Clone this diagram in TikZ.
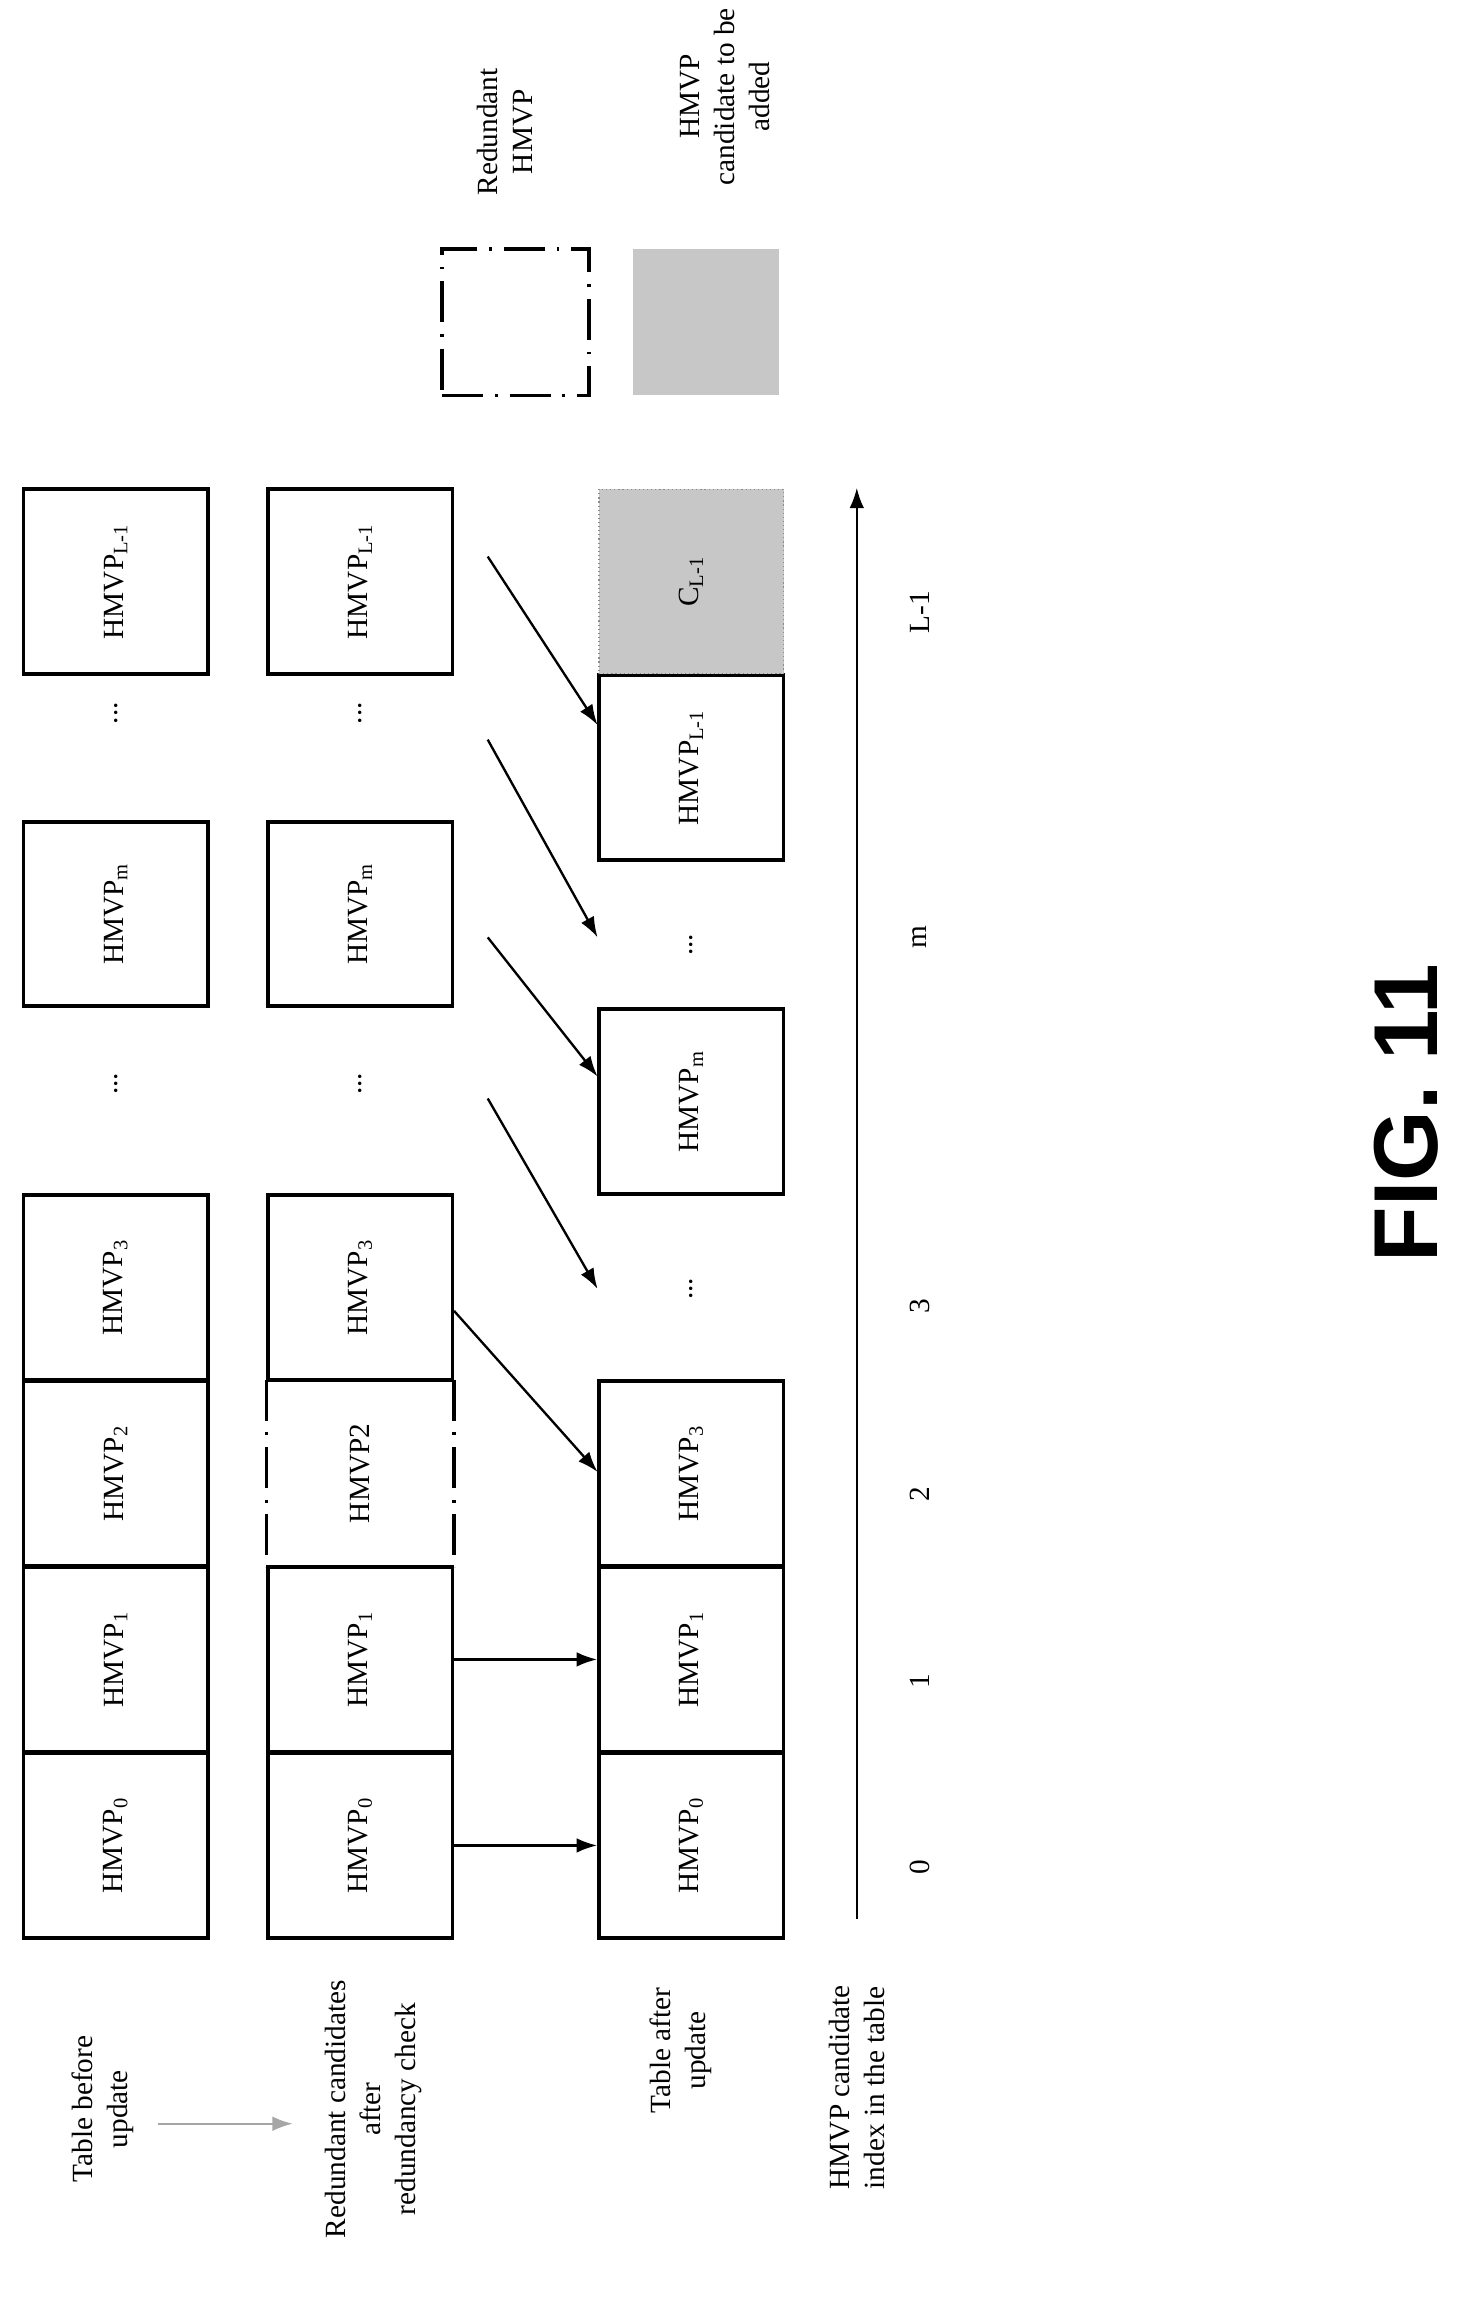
\documentclass[tikz,border=0pt]{standalone}
\usepackage{fontspec}
\usetikzlibrary{arrows.meta}
\setmainfont{Liberation Serif}
\newfontfamily\figfont{Liberation Sans}
\newcommand{\sbx}[1]{\textsubscript{#1}}
\begin{document}
\begin{tikzpicture}[x=0.5pt,y=-0.5pt,
  box/.style={draw,line width=1.3pt,minimum width=63pt,minimum height=63pt,inner sep=0pt,rotate=90,font=\fontsize{10}{12}\selectfont},
  txt/.style={rotate=90,align=center,font=\fontsize{10}{12}\selectfont},
  gbox/.style={fill=black!22,draw=black!45,densely dotted,minimum width=63pt,minimum height=63pt,inner sep=0pt,rotate=90,font=\fontsize{10}{12}\selectfont},
  arr/.style={-{Latex[length=7pt,width=5pt]},line width=0.8pt}]
\useasboundingbox (0,0) rectangle (1000,1569);
% row 1
\node[box] (a0) at (79,1260) {HMVP\sbx{0}};
\node[box] (a1) at (79,1133) {HMVP\sbx{1}};
\node[box] (a2) at (79,1006) {HMVP\sbx{2}};
\node[box] (a3) at (79,879) {HMVP\sbx{3}};
\node[txt] (ad1) at (79,740) {...};
\node[box] (am) at (79,624) {HMVP\sbx{m}};
\node[txt] (ad2) at (79,487) {...};
\node[box] (al) at (79,397) {HMVP\sbx{L-1}};
% row 2
\node[box] (b0) at (246,1260) {HMVP\sbx{0}};
\node[box] (b1) at (246,1133) {HMVP\sbx{1}};
\node[txt] (b2) at (246,1006) {HMVP2};
\draw[line width=1.3pt,dash pattern=on 14pt off 4pt on 1pt off 4pt] (182,942) -- (182,1070);
\draw[line width=1.3pt,dash pattern=on 14pt off 4pt on 1pt off 4pt] (310,942) -- (310,1070);
\node[box] (b3) at (246,879) {HMVP\sbx{3}};
\node[txt] (bd1) at (246,740) {...};
\node[box] (bm) at (246,624) {HMVP\sbx{m}};
\node[txt] (bd2) at (246,487) {...};
\node[box] (bl) at (246,397) {HMVP\sbx{L-1}};
% row 3
\node[box] (c0) at (472,1260) {HMVP\sbx{0}};
\node[box] (c1) at (472,1133) {HMVP\sbx{1}};
\node[box] (c3) at (472,1006) {HMVP\sbx{3}};
\node[txt] (cd1) at (472,880) {...};
\node[box] (cm) at (472,752) {HMVP\sbx{m}};
\node[txt] (cd2) at (472,645) {...};
\node[box] (cl) at (472,524) {HMVP\sbx{L-1}};
\node[gbox] (cc) at (472,397) {C\sbx{L-1}};
% arrows
\draw[arr] (b0) -- (c0);
\draw[arr] (b1) -- (c1);
\coordinate (s3) at (310,895); \coordinate (e3) at (408,1005);
\coordinate (s4) at (333,750); \coordinate (e4) at (408,880);
\coordinate (s5) at (333,640); \coordinate (e5) at (408,735);
\coordinate (s6) at (333,505); \coordinate (e6) at (408,640);
\coordinate (s7) at (333,380); \coordinate (e7) at (408,495);
\draw[arr] (s3) -- (e3);
\draw[arr] (s4) -- (e4);
\draw[arr] (s5) -- (e5);
\draw[arr] (s6) -- (e6);
\draw[arr] (s7) -- (e7);
% axis
\coordinate (ax0) at (585,1310); \coordinate (ax1) at (585,333);
\draw[arr] (ax0) -- (ax1);
\foreach \n/\t/\yy in {i0/0/1275,i1/1/1148,i2/2/1020,i3/3/892,im/m/640,il/L-1/418}
  \node[txt] (\n) at (628,\yy) {\t};
% side labels
\node[txt] (la) at (70,1440) {Table before\\update};
\node[txt] (lb) at (255,1440) {Redundant candidates\\after\\redundancy check};
\node[txt] (lc) at (465,1400) {Table after\\update};
\node[txt,align=left] (ld) at (585,1425) {HMVP candidate\\index in the table};
\coordinate (g0) at (108,1450); \coordinate (g1) at (200,1450);
\draw[-{Latex[length=7pt,width=5pt]},gray!70,line width=0.8pt] (g0) -- (g1);
% legend
\node[draw,line width=1.3pt,dash pattern=on 14pt off 4pt on 1pt off 4pt,minimum width=50pt,minimum height=50pt] (lg1) at (352,220) {};
\node[fill=black!22,minimum width=50pt,minimum height=50pt] (lg2) at (482,220) {};
\node[txt] (lt1) at (345,90) {Redundant\\HMVP};
\node[txt] (lt2) at (495,66) {HMVP\\candidate to be\\added};
\node[rotate=90,font=\figfont\bfseries\fontsize{31}{36}\selectfont] (fig) at (960,760) {FIG. 11};
\end{tikzpicture}
\end{document}
